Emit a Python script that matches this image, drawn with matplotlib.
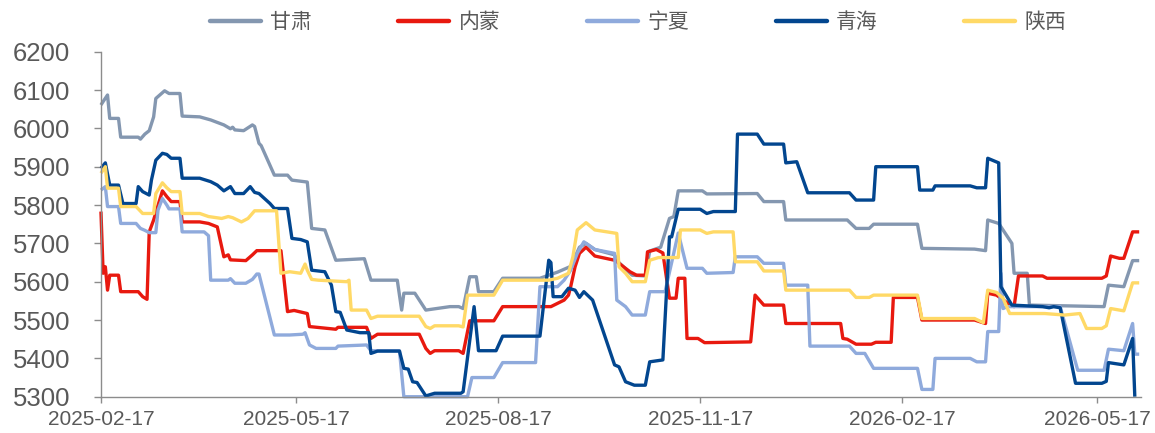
import matplotlib
matplotlib.use("Agg")
import matplotlib.pyplot as plt
import matplotlib.dates as mdates
import pandas as pd

series_names = ["甘肃", "内蒙", "宁夏", "青海", "陕西"]
series_colors = ["#8497B0", "#E8190F", "#8FAADC", "#02468F", "#FFD966"]

gansu_dates = ["2025-02-17","2025-02-18","2025-02-20","2025-02-21","2025-02-25","2025-02-26","2025-03-06","2025-03-07",
    "2025-03-09","2025-03-11","2025-03-13","2025-03-14","2025-03-18","2025-03-20","2025-03-25","2025-03-26","2025-04-03",
    "2025-04-08","2025-04-14","2025-04-17","2025-04-18","2025-04-19","2025-04-23","2025-04-27","2025-04-28","2025-04-30",
    "2025-05-01","2025-05-07","2025-05-13","2025-05-15","2025-05-22","2025-05-24","2025-05-30","2025-06-04","2025-06-17",
    "2025-06-20","2025-07-02","2025-07-04","2025-07-05","2025-07-10","2025-07-15","2025-07-26","2025-07-30","2025-08-01",
    "2025-08-04","2025-08-07","2025-08-08","2025-08-15","2025-08-19","2025-09-05","2025-09-13","2025-09-19","2025-09-23",
    "2025-09-26","2025-09-30","2025-10-09","2025-10-11","2025-10-17","2025-10-23","2025-10-25","2025-10-30","2025-10-31",
    "2025-11-03","2025-11-05","2025-11-07","2025-11-18","2025-11-20","2025-12-13","2025-12-16","2025-12-25","2025-12-26",
    "2026-01-23","2026-01-27","2026-02-02","2026-02-04","2026-02-24","2026-02-26","2026-03-22","2026-03-27","2026-03-28",
    "2026-04-02","2026-04-08","2026-04-09","2026-04-15","2026-04-16","2026-05-20","2026-05-22","2026-05-29","2026-06-02",
    "2026-06-05"]
gansu_values = [6061,6070,6087,6026,6026,5977,5977,5972,
    5985,5994,6030,6078,6098,6091,6091,6032,6030,
    6022,6009,5999,6003,5996,5994,6009,6005,5961,
    5955,5878,5878,5865,5860,5739,5735,5656,5660,
    5604,5604,5526,5570,5570,5526,5535,5535,5530,
    5613,5613,5574,5574,5609,5609,5625,5640,5690,
    5700,5684,5670,5650,5617,5615,5680,5690,5709,
    5765,5770,5837,5837,5829,5830,5809,5809,5761,
    5761,5739,5739,5750,5750,5687,5685,5681,5761,
    5752,5700,5622,5622,5539,5535,5591,5587,5655,
    5655]

neimeng_dates = ["2025-02-17","2025-02-18","2025-02-19","2025-02-20","2025-02-21","2025-02-25","2025-02-26","2025-03-06",
    "2025-03-08","2025-03-10","2025-03-11","2025-03-13","2025-03-17","2025-03-19","2025-03-21","2025-03-25","2025-03-26",
    "2025-04-03","2025-04-07","2025-04-11","2025-04-14","2025-04-16","2025-04-17","2025-04-24","2025-04-27","2025-04-29",
    "2025-05-10","2025-05-13","2025-05-16","2025-05-22","2025-05-23","2025-06-04","2025-06-05","2025-06-18","2025-06-20",
    "2025-06-23","2025-07-12","2025-07-15","2025-07-17","2025-07-19","2025-07-30","2025-08-01","2025-08-04","2025-08-15",
    "2025-08-19","2025-09-10","2025-09-16","2025-09-18","2025-09-19","2025-09-21","2025-09-23","2025-09-26","2025-09-30",
    "2025-10-09","2025-10-11","2025-10-16","2025-10-19","2025-10-23","2025-10-24","2025-10-28","2025-10-31","2025-11-03",
    "2025-11-06","2025-11-07","2025-11-10","2025-11-11","2025-11-16","2025-11-19","2025-12-10","2025-12-12","2025-12-16",
    "2025-12-25","2025-12-26","2026-01-20","2026-01-21","2026-01-23","2026-01-27","2026-02-03","2026-02-05","2026-02-12",
    "2026-02-13","2026-02-24","2026-02-26","2026-03-22","2026-03-27","2026-03-28","2026-04-01","2026-04-02","2026-04-07",
    "2026-04-09","2026-04-11","2026-04-22","2026-04-24","2026-05-19","2026-05-21","2026-05-23","2026-05-27","2026-05-29",
    "2026-06-02","2026-06-05"]
neimeng_values = [5783,5622,5639,5578,5617,5617,5574,5574,
    5561,5554,5730,5761,5837,5822,5809,5809,5756,
    5756,5752,5743,5665,5670,5657,5655,5670,5681,
    5681,5522,5525,5517,5483,5476,5481,5481,5452,
    5463,5463,5426,5413,5420,5420,5413,5498,5498,
    5535,5535,5552,5565,5587,5639,5674,5690,5667,
    5656,5648,5626,5617,5617,5678,5684,5675,5557,
    5557,5609,5609,5452,5452,5441,5443,5565,5539,
    5539,5491,5491,5452,5450,5437,5437,5442,5442,
    5559,5559,5500,5500,5491,5570,5565,5561,5540,
    5535,5615,5615,5609,5609,5615,5667,5661,5661,
    5730,5730]

ningxia_dates = ["2025-02-17","2025-02-19","2025-02-20","2025-02-25","2025-02-26","2025-03-05","2025-03-07","2025-03-09",
    "2025-03-11","2025-03-14","2025-03-15","2025-03-17","2025-03-19","2025-03-20","2025-03-25","2025-03-26","2025-04-05",
    "2025-04-07","2025-04-08","2025-04-16","2025-04-17","2025-04-19","2025-04-24","2025-04-27","2025-04-29","2025-04-30",
    "2025-05-07","2025-05-14","2025-05-20","2025-05-21","2025-05-23","2025-05-26","2025-06-04","2025-06-05","2025-06-18",
    "2025-06-20","2025-07-03","2025-07-05","2025-08-03","2025-08-05","2025-08-15","2025-08-19","2025-09-03","2025-09-05",
    "2025-09-13","2025-09-16","2025-09-19","2025-09-22","2025-09-25","2025-09-30","2025-10-09","2025-10-10","2025-10-14",
    "2025-10-17","2025-10-23","2025-10-25","2025-11-01","2025-11-04","2025-11-07","2025-11-11","2025-11-18","2025-11-20",
    "2025-12-02","2025-12-03","2025-12-13","2025-12-16","2025-12-25","2025-12-26","2026-01-05","2026-01-06","2026-01-24",
    "2026-01-27","2026-01-31","2026-02-04","2026-02-24","2026-02-26","2026-03-03","2026-03-04","2026-03-20","2026-03-23",
    "2026-03-27","2026-03-28","2026-04-02","2026-04-03","2026-04-04","2026-04-06","2026-04-30","2026-05-08","2026-05-20",
    "2026-05-22","2026-05-29","2026-06-02","2026-06-03","2026-06-05"]
ningxia_values = [5839,5848,5796,5796,5752,5752,5739,5734,
    5728,5728,5787,5817,5800,5790,5790,5730,5730,
    5720,5604,5604,5608,5596,5596,5606,5620,5620,
    5461,5461,5463,5467,5435,5426,5426,5432,5435,
    5420,5420,5300,5300,5350,5350,5389,5389,5587,
    5587,5604,5630,5674,5704,5684,5674,5552,5535,
    5513,5513,5574,5574,5650,5727,5635,5635,5622,
    5624,5665,5665,5648,5648,5591,5591,5432,5432,
    5413,5413,5374,5374,5319,5319,5400,5400,5391,
    5391,5470,5470,5622,5530,5535,5535,5369,5369,
    5424,5420,5491,5411,5411]

qinghai_dates = ["2025-02-17","2025-02-19","2025-02-21","2025-02-25","2025-02-27","2025-03-05","2025-03-06","2025-03-08",
    "2025-03-11","2025-03-12","2025-03-14","2025-03-17","2025-03-19","2025-03-21","2025-03-25","2025-03-26","2025-04-03",
    "2025-04-08","2025-04-11","2025-04-14","2025-04-17","2025-04-19","2025-04-23","2025-04-26","2025-04-28","2025-04-30",
    "2025-05-05","2025-05-07","2025-05-13","2025-05-15","2025-05-19","2025-05-22","2025-05-24","2025-05-30","2025-06-02",
    "2025-06-04","2025-06-06","2025-06-09","2025-06-15","2025-06-19","2025-06-20","2025-06-23","2025-07-03","2025-07-05",
    "2025-07-07","2025-07-09","2025-07-11","2025-07-15","2025-07-19","2025-07-31","2025-08-01","2025-08-06","2025-08-08",
    "2025-08-16","2025-08-19","2025-09-05","2025-09-09","2025-09-10","2025-09-11","2025-09-15","2025-09-18","2025-09-21",
    "2025-09-23","2025-09-25","2025-09-29","2025-10-09","2025-10-11","2025-10-14","2025-10-18","2025-10-23","2025-10-25",
    "2025-10-31","2025-11-03","2025-11-04","2025-11-07","2025-11-17","2025-11-20","2025-11-23","2025-12-03","2025-12-04",
    "2025-12-13","2025-12-16","2025-12-25","2025-12-26","2025-12-31","2026-01-05","2026-01-24","2026-01-27","2026-02-04",
    "2026-02-05","2026-02-24","2026-02-25","2026-03-03","2026-03-04","2026-03-20","2026-03-23","2026-03-27","2026-03-28",
    "2026-04-02","2026-04-03","2026-04-08","2026-04-22","2026-04-25","2026-04-27","2026-04-30","2026-05-07","2026-05-19",
    "2026-05-21","2026-05-22","2026-05-29","2026-06-02","2026-06-03"]
qinghai_values = [5896,5910,5852,5852,5804,5804,5848,5835,
    5826,5865,5917,5935,5932,5922,5922,5870,5870,
    5861,5852,5837,5848,5830,5830,5848,5833,5830,
    5804,5791,5791,5713,5710,5704,5630,5626,5591,
    5522,5520,5474,5467,5467,5413,5419,5419,5374,
    5372,5339,5337,5302,5309,5309,5313,5535,5420,
    5420,5458,5458,5656,5650,5561,5561,5583,5578,
    5559,5574,5552,5383,5378,5339,5330,5330,5391,
    5396,5717,5717,5789,5789,5778,5783,5783,5985,
    5985,5959,5959,5910,5913,5832,5832,5813,5813,
    5900,5900,5839,5839,5850,5850,5845,5845,5922,
    5910,5587,5539,5535,5532,5535,5532,5335,5335,
    5340,5389,5383,5452,5300]

shaanxi_dates = ["2025-02-17","2025-02-19","2025-02-20","2025-02-25","2025-02-26","2025-03-05","2025-03-08","2025-03-13",
    "2025-03-14","2025-03-17","2025-03-19","2025-03-21","2025-03-25","2025-03-26","2025-04-03","2025-04-07","2025-04-13",
    "2025-04-16","2025-04-18","2025-04-22","2025-04-25","2025-04-28","2025-05-08","2025-05-10","2025-05-14","2025-05-19",
    "2025-05-21","2025-05-22","2025-05-24","2025-05-27","2025-06-09","2025-06-10","2025-06-11","2025-06-18","2025-06-20",
    "2025-06-23","2025-07-12","2025-07-15","2025-07-17","2025-07-19","2025-07-30","2025-08-01","2025-08-03","2025-08-15",
    "2025-08-19","2025-09-09","2025-09-13","2025-09-18","2025-09-20","2025-09-22","2025-09-26","2025-09-30","2025-10-10",
    "2025-10-11","2025-10-14","2025-10-17","2025-10-23","2025-10-25","2025-10-29","2025-11-07","2025-11-08","2025-11-17",
    "2025-11-20","2025-11-23","2025-12-02","2025-12-03","2025-12-13","2025-12-16","2025-12-25","2025-12-26","2026-01-24",
    "2026-01-27","2026-02-02","2026-02-04","2026-02-24","2026-02-26","2026-03-22","2026-03-26","2026-03-28","2026-04-01",
    "2026-04-04","2026-04-07","2026-04-23","2026-05-02","2026-05-09","2026-05-12","2026-05-19","2026-05-21","2026-05-23",
    "2026-05-29","2026-06-02","2026-06-05"]
shaanxi_values = [5883,5900,5844,5844,5796,5796,5778,5778,
    5830,5858,5845,5835,5835,5778,5778,5770,5765,
    5770,5767,5756,5765,5785,5785,5622,5626,5622,
    5646,5630,5606,5604,5600,5604,5526,5526,5504,
    5510,5510,5483,5478,5485,5485,5482,5565,5565,
    5604,5604,5609,5622,5665,5735,5754,5735,5726,
    5639,5622,5600,5600,5656,5663,5663,5735,5735,
    5726,5730,5730,5652,5652,5628,5628,5578,5578,
    5559,5559,5565,5565,5504,5504,5493,5578,5572,
    5557,5517,5517,5513,5517,5478,5478,5485,5530,
    5524,5597,5597]

tick_dates = ["2025-02-17", "2025-05-17", "2025-08-17", "2025-11-17", "2026-02-17", "2026-05-17"]
y_ticks = [5300, 5400, 5500, 5600, 5700, 5800, 5900, 6000, 6100, 6200]

all_dates = [gansu_dates, neimeng_dates, ningxia_dates, qinghai_dates, shaanxi_dates]
all_values = [gansu_values, neimeng_values, ningxia_values, qinghai_values, shaanxi_values]

plt.rcParams['font.family'] = ['Liberation Sans', 'DejaVu Sans']

fig = plt.figure(figsize=(11.55, 4.33), dpi=100)
ax = fig.add_axes([0.0874, 0.0838, 0.9005, 0.7968])

handles = []
for name, color, d, v in zip(series_names, series_colors, all_dates, all_values):
    h, = ax.plot(pd.to_datetime(d), v, color=color, lw=2.4, label=name,
                 solid_joinstyle='round', solid_capstyle='butt', clip_on=False)
    handles.append(h)

ax.set_ylim(5300, 6200)
ax.set_yticks(y_ticks)
ax.set_xlim(pd.Timestamp("2025-02-17"), pd.Timestamp("2026-06-05 20:00"))
ax.set_xticks(pd.to_datetime(tick_dates))
ax.xaxis.set_major_formatter(mdates.DateFormatter("%Y-%m-%d"))

for s in ["top", "right"]:
    ax.spines[s].set_visible(False)
for s in ["left", "bottom"]:
    ax.spines[s].set_color("#8C8C8C")
    ax.spines[s].set_linewidth(1.0)

ax.tick_params(axis='y', direction='out', length=5, width=1.0, color="#8C8C8C",
               labelsize=18.5, labelcolor="#595959", pad=17)
ax.tick_params(axis='x', direction='out', length=4.5, width=1.0, color="#8C8C8C",
               labelsize=15, labelcolor="#595959", pad=5)

leg = fig.legend(handles=handles, labels=series_names, loc='center', bbox_to_anchor=(0.5525, 0.949),
                 ncol=5, frameon=False, handlelength=2.45, handletextpad=0.45, columnspacing=4.15,
                 prop={'family': ['Noto Sans CJK SC', 'DejaVu Sans'], 'size': 15})
for t in leg.get_texts():
    t.set_color("#595959")
for l in leg.get_lines():
    l.set_linewidth(3.2)
    l.set_solid_capstyle('round')

fig.savefig("out.png", dpi=100)
